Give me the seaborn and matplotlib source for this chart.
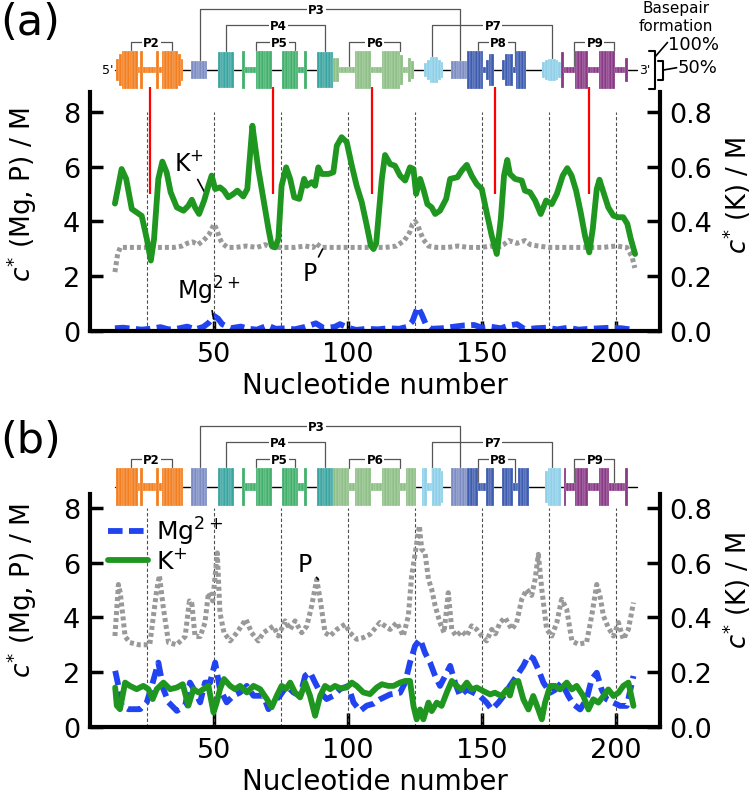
import numpy as np
import pandas as pd
import matplotlib
matplotlib.use('Agg')
from matplotlib import pyplot as plt
from matplotlib.lines import Line2D
import seaborn as sns

sns.set_style('ticks')
plt.rcParams['font.family'] = ['DejaVu Sans']
plt.rcParams['mathtext.fontset'] = 'dejavusans'
for key in ['text.color', 'axes.labelcolor', 'xtick.color', 'ytick.color', 'axes.edgecolor']:
    plt.rcParams[key] = 'black'

# ---------------- data (nucleotide, value) ----------------
# panel (a)
p_a = [(13, 2.15), (14, 2.8), (15, 3.05), (20, 3.05), (25, 3.05), (30, 3.05), (35, 3.05), (38, 3.1), (40, 3.2), (42, 3.25),
       (44, 3.15), (46, 3.3), (48, 3.5), (49, 3.7), (50, 3.9), (51, 3.7), (52, 3.4), (53, 3.2), (55, 3.05), (58, 3.05),
       (62, 3.1), (66, 3.05), (69, 3.15), (72, 3.05), (76, 3.05), (80, 3.05), (84, 3.1), (87, 3.05), (88, 3.2), (90, 3.05),
       (94, 3.05), (98, 3.05), (102, 3.05), (106, 3.05), (110, 3.05), (114, 3.05), (118, 3.1), (121, 3.3), (123, 3.6), (124, 3.9),
       (125, 4.0), (126, 3.85), (127, 3.6), (128, 3.35), (130, 3.1), (133, 3.05), (137, 3.05), (141, 3.1), (145, 3.05), (150, 3.05),
       (153, 3.1), (156, 3.05), (158, 3.15), (160, 3.3), (163, 3.2), (166, 3.3), (168, 3.15), (171, 3.1), (175, 3.05), (180, 3.05),
       (185, 3.05), (190, 3.05), (195, 3.05), (200, 3.1), (204, 3.05), (206, 2.7), (207, 2.3)]

mg_a = [(13, 0.1), (16, 0.12), (20, 0.08), (23, 0.05), (26, 0.08), (30, 0.14), (33, 0.06), (36, 0.08), (40, 0.16), (43, 0.06),
        (46, 0.15), (48, 0.3), (50, 0.55), (51.5, 0.45), (53, 0.25), (56, 0.1), (60, 0.16), (63, 0.08), (66, 0.05), (70, 0.2),
        (73, 0.08), (77, 0.1), (80, 0.06), (84, 0.15), (88, 0.28), (91, 0.1), (95, 0.15), (97, 0.25), (100, 0.12), (103, 0.04),
        (107, 0.08), (111, 0.06), (115, 0.1), (119, 0.08), (122, 0.15), (124, 0.35), (126, 0.88), (127.5, 0.6), (129, 0.25), (131, 0.08),
        (135, 0.1), (139, 0.15), (143, 0.2), (147, 0.22), (150, 0.12), (153, 0.16), (157, 0.1), (160, 0.2), (163, 0.25), (166, 0.06),
        (170, 0.1), (174, 0.12), (178, 0.06), (182, 0.12), (186, 0.05), (190, 0.08), (194, 0.1), (198, 0.12), (202, 0.1), (206, 0.05)]

# K+ in M (right axis)
k_a = [(13, 0.465), (15.5, 0.591), (17.2, 0.555), (19.3, 0.445), (21.1, 0.433), (23, 0.42), (24.9, 0.336), (26.4, 0.257), (27.6, 0.336), (29.2, 0.555),
       (30.7, 0.618), (32.3, 0.579), (33.8, 0.506), (36.1, 0.451), (38.6, 0.439), (40.4, 0.457), (41.7, 0.479), (42.9, 0.451), (44.4, 0.427), (46.3, 0.476),
       (47.9, 0.53), (49.1, 0.567), (50.4, 0.518), (52.2, 0.524), (53.7, 0.512), (55.3, 0.488), (57.2, 0.5), (58.7, 0.512), (60.9, 0.491), (62.4, 0.518),
       (63.4, 0.64), (64.3, 0.749), (65.3, 0.676), (66.5, 0.591), (68.4, 0.482), (70.3, 0.372), (71.5, 0.311), (72.8, 0.305), (74, 0.336), (75.2, 0.53),
       (76.9, 0.597), (78.4, 0.555), (79.9, 0.488), (81.8, 0.482), (83.6, 0.555), (84.6, 0.53), (86.4, 0.543), (87.7, 0.53), (88.9, 0.597), (90.2, 0.573),
       (92.7, 0.573), (94.5, 0.579), (95.8, 0.676), (97.6, 0.707), (99.5, 0.689), (101.4, 0.603), (103.2, 0.53), (105.1, 0.47), (107, 0.384), (108.5, 0.311),
       (109.5, 0.299), (110.5, 0.32), (111.3, 0.409), (112.6, 0.555), (113.8, 0.642), (115.7, 0.609), (117.5, 0.603), (119.4, 0.567), (121.3, 0.549), (123.1, 0.597),
       (124.4, 0.591), (125.4, 0.5), (126.9, 0.555), (128.1, 0.518), (129.6, 0.463), (131.2, 0.451), (132.5, 0.427), (134.3, 0.439), (136.6, 0.482), (138.1, 0.555),
       (140.8, 0.561), (142.4, 0.585), (144.3, 0.606), (146.1, 0.567), (148, 0.536), (149.9, 0.518), (151.7, 0.433), (153.6, 0.348), (155.5, 0.281), (157, 0.409),
       (158.2, 0.567), (159.4, 0.624), (160.4, 0.573), (162.3, 0.555), (164.8, 0.549), (166, 0.512), (167.9, 0.506), (169.8, 0.476), (171.9, 0.427), (173.9, 0.476),
       (176, 0.463), (177.9, 0.5), (180.1, 0.567), (181.8, 0.594), (183.4, 0.567), (185.1, 0.512), (186.8, 0.433), (188.4, 0.348), (190, 0.287), (191.3, 0.372),
       (192.8, 0.518), (193.8, 0.552), (195.3, 0.506), (197.1, 0.451), (199, 0.421), (200.9, 0.415), (202.7, 0.415), (204.2, 0.391), (205.5, 0.336), (207.1, 0.281)]

# panel (b)
p_b = [(13, 3.32), (14.3, 5.2), (15, 4.9), (16.8, 3.3), (18.6, 3.08), (22, 3.0), (26, 3.0), (28.6, 5.0), (29.6, 5.53), (31, 4.4),
       (33, 3.08), (36, 3.0), (39.2, 3.3), (40.8, 4.6), (41.7, 4.5), (42.9, 3.3), (44.8, 3.3), (46.6, 3.8), (47.9, 4.9), (49.5, 4.6),
       (51.2, 6.35), (52.2, 4.17), (53.7, 3.44), (56, 3.14), (58.5, 3.44), (61.9, 3.93), (64, 3.44), (66.5, 3.14), (68.4, 3.44), (72.1, 3.68),
       (74, 3.32), (76.5, 3.87), (78.4, 3.56), (80.2, 3.87), (82.7, 3.44), (84.6, 3.68), (86.4, 4.41), (88.3, 5.38), (89.6, 4.65), (91.4, 3.44),
       (93.3, 3.32), (95.8, 3.56), (98.9, 3.75), (100.7, 3.44), (103.2, 3.2), (105.7, 3.26), (108.2, 3.38), (111.9, 3.81), (115.7, 3.56), (118.2, 3.81),
       (120.6, 3.32), (122.5, 4.05), (123.7, 5.51), (125, 6.3), (126.6, 7.34), (127.5, 6.48), (128.7, 6.36), (130, 5.39), (131.2, 5.02), (132.5, 4.42),
       (134.3, 3.81), (135.8, 3.44), (137.4, 4.9), (138.7, 3.56), (140.3, 3.32), (142.4, 3.5), (144.3, 3.32), (146.1, 3.69), (148, 3.56), (149.9, 3.32),
       (151.7, 3.14), (153.6, 3.56), (155, 3.4), (156.7, 3.81), (158.6, 3.99), (161.1, 3.56), (162.9, 3.81), (164.8, 4.66), (166.7, 5.02), (168.5, 4.8),
       (169.8, 5.39), (171, 6.3), (172.3, 5.02), (174.1, 3.56), (176, 3.32), (177.9, 3.81), (179.7, 4.66), (181.6, 4.29), (183.5, 3.14), (185.9, 3.02),
       (189, 3.08), (190.9, 4.05), (192.8, 5.2), (194, 4.78), (195.3, 4.05), (197.1, 3.63), (199, 3.32), (200.9, 3.81), (202.7, 3.2), (204.6, 3.56),
       (206.5, 4.54)]

mg_b = [(13.1, 2.05), (14.3, 1.5), (15.5, 0.78), (18, 0.65), (22.4, 0.65), (24.9, 0.9), (27.1, 1.62), (29.2, 2.35), (31.1, 1.38), (33, 0.9),
        (36.1, 0.59), (39.2, 0.78), (41, 1.62), (42.3, 1.4), (44.8, 0.9), (46.6, 1.62), (48.5, 1.62), (50.4, 2.35), (52.2, 1.38), (54.7, 0.9),
        (57.2, 1.14), (59.7, 1.26), (62.2, 1.5), (64.7, 1.14), (68.4, 1.14), (70.3, 0.65), (72.1, 0.9), (74.6, 1.14), (77.1, 1.5), (79.6, 1.26),
        (82.1, 1.14), (84, 1.87), (85.8, 2.0), (87.7, 1.62), (89.6, 1.26), (92, 1.02), (94.5, 1.14), (97, 1.38), (100.1, 1.5), (102, 0.9),
        (104.5, 0.59), (107, 0.78), (109.5, 0.85), (111.9, 1.01), (115.7, 1.19), (119.4, 1.25), (121.3, 1.62), (123.1, 2.35), (125, 2.96), (126.9, 3.2),
        (128.7, 2.71), (130.6, 2.35), (132.5, 1.86), (134.3, 1.5), (136.2, 1.86), (138.1, 2.23), (139.9, 1.62), (141.8, 1.13), (144.3, 1.37), (146.8, 1.25),
        (149.2, 1.13), (151.7, 0.89), (153.6, 0.64), (156.1, 0.89), (158, 1.13), (160.4, 1.5), (162.9, 1.86), (165.4, 2.23), (167.3, 2.6), (169.1, 2.5),
        (171, 2.1), (172.9, 1.62), (175.4, 1.25), (177.2, 1.35), (179.7, 1.62), (182.2, 1.13), (184.1, 0.83), (186.6, 0.64), (189, 1.01), (190.9, 1.74),
        (192.8, 1.98), (194.6, 1.37), (196.5, 1.01), (199, 0.89), (201.5, 0.77), (204, 0.77), (206.5, 1.86)]

k_b = [(13.1, 0.144), (13.7, 0.078), (14.9, 0.065), (16.8, 0.162), (18.6, 0.15), (21.1, 0.138), (23.6, 0.15), (25.5, 0.138), (27.1, 0.102), (28.6, 0.138),
       (31.1, 0.162), (33.6, 0.138), (36.1, 0.144), (38.3, 0.156), (40.4, 0.078), (42.3, 0.138), (44.2, 0.126), (46, 0.138), (47.9, 0.15), (49.8, 0.053),
       (51, 0.09), (52.2, 0.138), (53.7, 0.175), (56, 0.15), (57.8, 0.138), (59.7, 0.15), (62.2, 0.126), (64.7, 0.15), (67.2, 0.138), (69.7, 0.102),
       (71.5, 0.072), (73.4, 0.114), (75.2, 0.15), (76.9, 0.14), (78.4, 0.162), (80.2, 0.126), (82.1, 0.108), (84, 0.162), (85.8, 0.114), (87.7, 0.041),
       (89.6, 0.114), (91.4, 0.15), (93.3, 0.138), (95.1, 0.15), (97, 0.142), (99.5, 0.144), (101.4, 0.162), (103.2, 0.15), (105.7, 0.126), (108.2, 0.12),
       (110.7, 0.144), (112.6, 0.156), (115, 0.15), (117, 0.15), (119.4, 0.162), (121.3, 0.168), (123.1, 0.168), (124.4, 0.077), (125.6, 0.028), (126.9, 0.064),
       (128.1, 0.028), (130, 0.089), (131.2, 0.058), (133.1, 0.089), (134.9, 0.077), (136.8, 0.125), (138.7, 0.168), (140.5, 0.15), (142.4, 0.137), (144.3, 0.162),
       (146.1, 0.137), (148, 0.144), (150.5, 0.131), (153, 0.119), (154.8, 0.125), (157.3, 0.113), (159.2, 0.137), (160.4, 0.115), (161.7, 0.162), (163.5, 0.168),
       (165.4, 0.101), (167.3, 0.064), (169.1, 0.113), (171, 0.064), (172.3, 0.028), (173.5, 0.089), (175.4, 0.15), (177.2, 0.15), (179.1, 0.137), (181.6, 0.162),
       (183.5, 0.137), (185.3, 0.15), (187.8, 0.113), (189.7, 0.064), (191.5, 0.101), (193.4, 0.089), (195.3, 0.113), (197.1, 0.137), (199, 0.113), (200.9, 0.125),
       (202.7, 0.15), (204.6, 0.162), (206.5, 0.077)]

red_nt = [26, 72, 109, 155, 190]
guide_nt = [25, 50, 75, 100, 125, 150, 175, 200]

# secondary structure: (helix, first nucleotide, basepair fraction per nucleotide)
struct_a = [
    ('P2', 14, [0.6, 0.85, 1, 1, 1, 1, 1, 1, 0.15, 1, 0.15, 0.15, 0.15, 0.15, 0.15, 1, 0.15, 1, 1, 1, 1, 1, 1, 0.85, 0.6]),
    ('P3', 42, [0.45, 0.45, 0.45, 0.45, 0.45, 0.45]),
    ('P4', 52, [0.95, 0.95, 0.95, 0.95, 0.95, 0.95]),
    ('P5', 61, [1, 0.15, 0.15, 0.15, 0.15, 1, 1, 1, 1, 1, 1, 0, 0, 0, 0, 1, 1, 1, 1, 1, 1, 0.15, 0.15, 1]),
    ('P4', 89, [0.95, 0.95, 0.95, 0.95, 0.95, 0.95]),
    ('P6', 95, [0.65, 0.65, 0.15, 0.15, 0.15, 0.15, 0.15, 0.15, 1, 1, 1, 1, 1, 1, 0.15, 0.15, 0.15, 0.15,
                1, 1, 1, 1, 1, 1, 1, 0.8, 0.15, 0.15, 0.65, 0.45]),
    ('P7', 129, [0.35, 0.55, 0.7, 0.7, 0.7, 0.55, 0.4]),
    ('P3', 139, [0.45, 0.45, 0.45, 0.45, 0.45, 0.45]),
    ('P8', 145, [1, 1, 1, 1, 1, 1, 0.15, 0.55, 0.85, 0.85, 0, 0, 0, 0.55, 0.85, 0.85, 0.85, 0.15, 1, 1, 1, 1]),
    ('P7', 173, [0.4, 0.55, 0.6, 0.6, 0.6, 0.55, 0.4]),
    ('P9', 180, [0.95, 0.15, 0.15, 0.15, 0.15, 1, 1, 1, 1, 1, 0.15, 0.15, 0.15, 0.15, 1, 1, 1, 1, 1, 1,
                 0.15, 0.15, 0.15, 0.15, 0.65]),
]
struct_b = [
    ('P2', 14, [1, 1, 1, 1, 1, 1, 1, 1, 0.2, 1, 0.2, 0.2, 0.2, 0.2, 0.2, 1, 0.2, 1, 1, 1, 1, 1, 1, 1, 1]),
    ('P3', 42, [1, 1, 1, 1, 1, 1]),
    ('P4', 52, [1, 1, 1, 1, 1, 1]),
    ('P5', 61, [1, 0.2, 0.2, 0.2, 0.2, 1, 1, 1, 1, 1, 1, 0, 0, 0, 0, 1, 1, 1, 1, 1, 1, 0.2, 0.2, 1]),
    ('P4', 89, [1, 1, 1, 1, 1, 1]),
    ('P6', 95, [1, 1, 1, 1, 1, 1, 0.2, 0.2, 1, 1, 1, 1, 1, 1, 0.2, 0.2, 0.2, 0.2, 1, 1, 1, 1, 1, 1, 1,
                0.2, 0.2, 1, 1, 1, 1]),
    ('P7', 128, [1, 1, 0.2, 0.2, 1, 1, 1, 0.85]),
    ('P3', 139, [1, 1, 1, 1, 1, 1]),
    ('P8', 145, [1, 1, 1, 1, 0.2, 0.2, 0.2, 1, 1, 1, 0, 0, 0, 1, 1, 1, 1, 0.2, 0.2, 1, 1, 1, 1]),
    ('P7', 174, [0.85, 1, 1, 1, 1, 1]),
    ('P9', 181, [1, 0.2, 0.2, 0.2, 1, 1, 1, 1, 1, 0.2, 0.2, 0.2, 0.2, 1, 1, 1, 1, 0.2, 0.2, 0.2, 0.2, 0.2, 0.2, 1]),
]
helix_colors = {'P2': '#f47f20', 'P3': '#7d8dc3', 'P4': '#38a5a0', 'P5': '#42b06c', 'P6': '#8ebf86',
                'P7': '#8fd0e8', 'P8': '#3f5db0', 'P9': '#893a86'}
# (label, left end, right end, label position, level)
brackets = [('P2', 18.9, 34.2, 26.6, 0), ('P5', 65.5, 80.2, 74.5, 0), ('P6', 100.5, 119.2, 110, 0),
            ('P8', 148.6, 162.3, 156.2, 0), ('P9', 184.3, 199.3, 192.1, 0),
            ('P4', 54.5, 91.4, 74, 1), ('P7', 131.2, 176.2, 154, 1), ('P3', 44.8, 141.8, 88.3, 2)]
levels = [1.45, 2.35, 3.2]

mg_color, k_color, p_color = '#2144f0', '#1f961f', '#999999'
xlim = (3.7, 216.4)
W, H = 755, 803


def draw_structure(dax, struct, tag_ends=False):
    dax.plot([13, 207.7], [0, 0], color='k', lw=1.0, zorder=1)
    hts = {}
    for helix, start, hs in struct:
        n = np.arange(start, start + len(hs))
        h = np.array(hs, dtype=float)
        for i, v in zip(n, h):
            hts[int(i)] = v
        keep = h > 0
        dax.bar(n[keep], 2 * h[keep], bottom=-h[keep], width=1.0, color=helix_colors[helix],
                edgecolor='white', linewidth=0.15, zorder=2)
    for name, n0, n1, nl, lev in brackets:
        y = levels[lev]
        dax.plot([n0, n0, n1, n1], [hts.get(round(n0), 0), y, y, hts.get(round(n1), 0)],
                 color='#555555', lw=0.9, zorder=1)
        dax.text(nl, y, name, ha='center', va='center', fontsize=8.5, fontweight='bold', zorder=3,
                 bbox=dict(fc='white', ec='none', pad=0.8))
    if tag_ends:
        dax.text(10.2, 0, "5'", ha='center', va='center', fontsize=9)
        dax.text(208.6, 0, "3'", ha='left', va='center', fontsize=9, clip_on=False)
    dax.set_xlim(*xlim)
    dax.axis('off')


def style_axes(ax, ax2, xtick_len):
    for s in ['top', 'right']:
        ax.spines[s].set_visible(False)
    for s in ['top', 'left', 'bottom']:
        ax2.spines[s].set_visible(False)
    for s in ['left', 'bottom']:
        ax.spines[s].set_linewidth(3)
    ax2.spines['right'].set_linewidth(3)
    ax.set_xlim(*xlim)
    ax.set_xticks([50, 100, 150, 200])
    ax.set_yticks([0, 2, 4, 6, 8])
    ax2.set_yticks([0, 0.2, 0.4, 0.6, 0.8])
    ax2.set_yticklabels(['0.0', '0.2', '0.4', '0.6', '0.8'])
    ax.tick_params(axis='y', direction='in', length=9.5, width=2.5, labelsize=19.5, pad=7)
    ax.tick_params(axis='x', direction='in', length=xtick_len, width=2.5, labelsize=19.5, pad=7)
    ax2.tick_params(axis='y', direction='in', length=9.5, width=2.5, labelsize=19.5, pad=7)
    ax.set_xlabel('Nucleotide number', fontsize=20, labelpad=3)
    ax.set_ylabel(r'$c^{*}$ (Mg, P) / M', fontsize=19)
    ax2.set_ylabel(r'$c^{*}$ (K) / M', fontsize=18.5)


def draw_curves(ax, ax2, p, mg, k, ytop):
    ax.set_ylim(0, ytop)
    ax2.set_ylim(0, ytop / 10)
    ax.vlines(guide_nt, 0, 8, colors='0.3', linestyles=(0, (3, 2)), lw=0.8, zorder=1)
    dp = pd.DataFrame(p, columns=['n', 'c'])
    dm = pd.DataFrame(mg, columns=['n', 'c'])
    dk = pd.DataFrame(k, columns=['n', 'c'])
    sns.lineplot(data=dp, x='n', y='c', ax=ax, color=p_color, lw=3.6, linestyle=(0, (0.8, 0.6)),
                 estimator=None, sort=False)
    sns.lineplot(data=dm, x='n', y='c', ax=ax, color=mg_color, lw=4.2, linestyle=(0, (2.5, 1.1)),
                 estimator=None, sort=False)
    sns.lineplot(data=dk, x='n', y='c', ax=ax2, color=k_color, lw=4.2, estimator=None, sort=False)


fig = plt.figure(figsize=(W / 100, H / 100), dpi=100)

# ---------- panel (a) ----------
ax = fig.add_axes([90 / W, 1 - 332 / H, 570 / W, 239 / H])
ax2 = ax.twinx()
draw_curves(ax, ax2, p_a, mg_a, k_a, 8.72)
style_axes(ax, ax2, 7)
ax.yaxis.set_label_coords(-0.09, 0.573)
ax2.yaxis.set_label_coords(1.106, 0.573)
ax.vlines(red_nt, 5.0, 8.9, colors='red', lw=1.6, clip_on=False, zorder=3)
ann = dict(arrowstyle='-', color='k', lw=1.2, shrinkA=1, shrinkB=0)
ax.annotate('K$^{+}$', xy=(46.3, 5.09), xytext=(40.5, 6.15), fontsize=17, ha='center', va='center', arrowprops=ann)
ax.annotate('P', xy=(90.5, 2.99), xytext=(85.8, 2.1), fontsize=17, ha='center', va='center', arrowprops=ann)
ax.annotate('Mg$^{2+}$', xy=(49.8, 0.44), xytext=(48, 1.5), fontsize=17, ha='center', va='center', arrowprops=ann)

dax = fig.add_axes([90 / W, 1 - 93 / H, 570 / W, 93 / H])
dax.set_ylim(-22 / 19, 71 / 19)
draw_structure(dax, struct_a, tag_ends=True)
# basepair-formation scale
dax.plot([212.2, 214.4, 214.4, 212.2], [1, 1, -1, -1], color='k', lw=1.5, clip_on=False)
dax.plot([215.6, 217.5, 217.5, 215.6], [0.5, 0.5, -0.5, -0.5], color='k', lw=1.5, clip_on=False)
dax.plot([214.6, 219.2], [0.7, 1.45], color='k', lw=1.2, clip_on=False)
dax.plot([217.7, 222.6], [0.0, 0.12], color='k', lw=1.2, clip_on=False)
dax.text(219.3, 1.35, '100%', fontsize=13, ha='left', va='center', clip_on=False)
dax.text(222.8, 0.18, '50%', fontsize=13, ha='left', va='center', clip_on=False)
dax.text(222.4, 2.82, 'Basepair\nformation', fontsize=11, ha='center', va='center',
         linespacing=1.25, clip_on=False)

# ---------- panel (b) ----------
bx = fig.add_axes([90 / W, 1 - 728 / H, 570 / W, 233 / H])
bx2 = bx.twinx()
draw_curves(bx, bx2, p_b, mg_b, k_b, 8.5)
style_axes(bx, bx2, 10)
bx.yaxis.set_label_coords(-0.09, 0.588)
bx2.yaxis.set_label_coords(1.106, 0.588)
bx.annotate('P', xy=(88.9, 5.38), xytext=(84, 5.95), fontsize=17, ha='center', va='center', arrowprops=ann)
handles = [Line2D([], [], color=mg_color, lw=4.2, linestyle=(0, (2.5, 1.1))),
           Line2D([], [], color=k_color, lw=4.2)]
bx2.legend(handles, ['Mg$^{2+}$', 'K$^{+}$'], loc='upper left', bbox_to_anchor=(0.032, 0.91),
           frameon=False, fontsize=18, handlelength=1.6, handletextpad=0.3, labelspacing=0.05,
           borderaxespad=0, borderpad=0)

dbx = fig.add_axes([90 / W, 1 - 510 / H, 570 / W, 95 / H])
dbx.set_ylim(-22 / 19, 73 / 19)
draw_structure(dbx, struct_b)

fig.text(0.0, 0.997, '(a)', fontsize=31, ha='left', va='top')
fig.text(0.0, 1 - 420 / H, '(b)', fontsize=31, ha='left', va='top')

fig.savefig('out.png', dpi=100)
